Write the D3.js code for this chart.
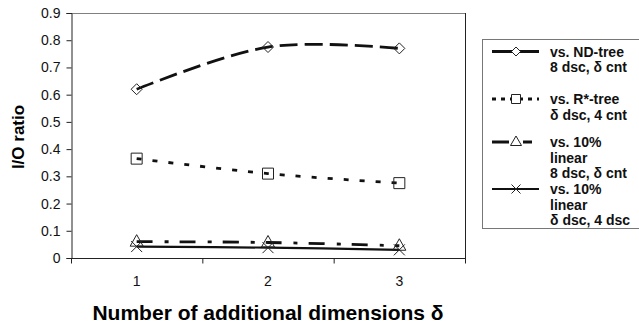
<!DOCTYPE html>
<html>
<head>
<meta charset="utf-8">
<script src="https://cdn.jsdelivr.net/npm/d3@7"></script>
<style>
  html, body { margin: 0; padding: 0; background: #fff; }
  svg { display: block; font-family: "Liberation Sans", Arial, sans-serif; }
</style>
</head>
<body>
<svg id="chart" width="639" height="323"></svg>
<script>
// Number of additional dimensions δ
const categories = [1, 2, 3];

// I/O ratio for each comparison
const ndTree    = [0.62, 0.775, 0.77];
const rStarTree = [0.365, 0.31, 0.275];
const linear8   = [0.06, 0.057, 0.045];
const linearD   = [0.042, 0.038, 0.03];

const yTicks = [0, 0.1, 0.2, 0.3, 0.4, 0.5, 0.6, 0.7, 0.8, 0.9];
const yTickLabels = ["0", "0.1", "0.2", "0.3", "0.4", "0.5", "0.6", "0.7", "0.8", "0.9"];

const legendLabels = [
  ["vs. ND-tree", "8 dsc, δ cnt"],
  ["vs. R*-tree", "δ dsc, 4 cnt"],
  ["vs. 10%", "linear", "8 dsc, δ cnt"],
  ["vs. 10%", "linear", "δ dsc, 4 dsc"]
];

const series = [
  { values: ndTree,    marker: "diamond",  dash: "18,7",       width: 2.8, legendDash: null,         legendY: 51.5 },
  { values: rStarTree, marker: "square",   dash: "5,11",       width: 2.8, legendDash: "4,5",        legendY: 99 },
  { values: linear8,   marker: "triangle", dash: "16,12,4,11", width: 2.8, legendDash: "17,4,4,6,9", legendY: 142 },
  { values: linearD,   marker: "cross",    dash: null,         width: 2.2, legendDash: null,         legendY: 189 }
];

const svg = d3.select("#chart");
const plotLeft = 71, plotRight = 465, plotTop = 13, plotBottom = 258;

const x = d3.scaleLinear().domain([0.5, 3.5]).range([plotLeft, plotRight]);
const y = d3.scaleLinear().domain([0, 0.9]).range([plotBottom, plotTop]);

// plot frame: top and right edges
svg.append("line").attr("x1", plotLeft).attr("x2", plotRight).attr("y1", plotTop + 0.5).attr("y2", plotTop + 0.5)
  .attr("stroke", "#808080").attr("stroke-width", 1);
svg.append("line").attr("x1", plotRight + 0.5).attr("x2", plotRight + 0.5).attr("y1", plotTop).attr("y2", plotBottom)
  .attr("stroke", "#222").attr("stroke-width", 1);

// y axis
const yAxis = d3.axisLeft(y).tickValues(yTicks).tickSize(5).tickPadding(6)
  .tickFormat((d, i) => yTickLabels[i]);
const gy = svg.append("g").attr("transform", `translate(${plotLeft + 0.5},0)`).call(yAxis);
gy.select(".domain").attr("stroke", "#222");
gy.selectAll(".tick line").attr("stroke", "#222");
gy.selectAll(".tick text").attr("font-size", 14).attr("fill", "#111")
  .attr("font-family", "Liberation Sans, Arial, sans-serif");

// x axis: ticks on category boundaries, labels centred in each category
const xAxis = d3.axisBottom(x).tickValues([0.5, 1.5, 2.5, 3.5]).tickSize(5).tickFormat("");
const gx = svg.append("g").attr("transform", `translate(0,${plotBottom + 0.5})`).call(xAxis);
gx.select(".domain").attr("stroke", "#222").attr("d", `M${plotLeft},0H${plotRight + 1}`);
gx.selectAll(".tick line").attr("stroke", "#222");
svg.append("g").selectAll("text").data(categories).join("text")
  .attr("x", d => x(d)).attr("y", 286)
  .attr("text-anchor", "middle").attr("font-size", 14).attr("fill", "#111")
  .text(d => d);

// axis titles
svg.append("text")
  .attr("transform", `translate(24,137) rotate(-90)`)
  .attr("text-anchor", "middle").attr("font-size", 17).attr("font-weight", "bold")
  .text("I/O ratio");
svg.append("text")
  .attr("x", 268).attr("y", 320)
  .attr("text-anchor", "middle").attr("font-size", 21).attr("font-weight", "bold")
  .text("Number of additional dimensions δ");

// marker shapes
function markerPath(type, s) {
  const h = s / 2;
  switch (type) {
    case "diamond":  return `M0,${-h}L${h},0L0,${h}L${-h},0Z`;
    case "square":   return `M${-h},${-h}H${h}V${h}H${-h}Z`;
    case "triangle": return `M0,${-h - 1.5}L${h + 1},${h - 1}H${-h - 1}Z`;
    case "cross":    return `M${-h},${-h}L${h},${h}M${h},${-h}L${-h},${h}`;
  }
}

const line = d3.line()
  .x((d, i) => x(categories[i]))
  .y(d => y(d))
  .curve(d3.curveCatmullRom.alpha(0));

const plot = svg.append("g");
series.forEach(s => {
  plot.append("path")
    .attr("d", line(s.values))
    .attr("fill", "none").attr("stroke", "#111")
    .attr("stroke-width", s.width)
    .attr("stroke-dasharray", s.dash);
});
series.forEach(s => {
  plot.append("g").selectAll("path").data(s.values).join("path")
    .attr("transform", (d, i) => `translate(${x(categories[i])},${y(d)})`)
    .attr("d", markerPath(s.marker, 11))
    .attr("fill", "none").attr("stroke", "#222").attr("stroke-width", 1);
});

// legend
const legend = svg.append("g");
legend.append("rect")
  .attr("x", 482.5).attr("y", 39.5).attr("width", 200).attr("height", 189)
  .attr("fill", "#fff").attr("stroke", "#777").attr("stroke-width", 1);

series.forEach((s, i) => {
  const g = legend.append("g");
  g.append("line")
    .attr("x1", 492).attr("x2", 539).attr("y1", s.legendY).attr("y2", s.legendY)
    .attr("stroke", "#111").attr("stroke-width", s.width)
    .attr("stroke-dasharray", s.legendDash);
  g.append("path")
    .attr("transform", `translate(516,${s.legendY})`)
    .attr("d", markerPath(s.marker, 9))
    .attr("fill", s.marker === "cross" ? "none" : "#fff")
    .attr("stroke", "#222").attr("stroke-width", 1);
  g.selectAll("text").data(legendLabels[i]).join("text")
    .attr("x", 550).attr("y", (d, j) => s.legendY + 5 + j * 15.5)
    .attr("font-size", 14).attr("font-weight", "bold").attr("fill", "#111")
    .text(d => d);
});
</script>
</body>
</html>
